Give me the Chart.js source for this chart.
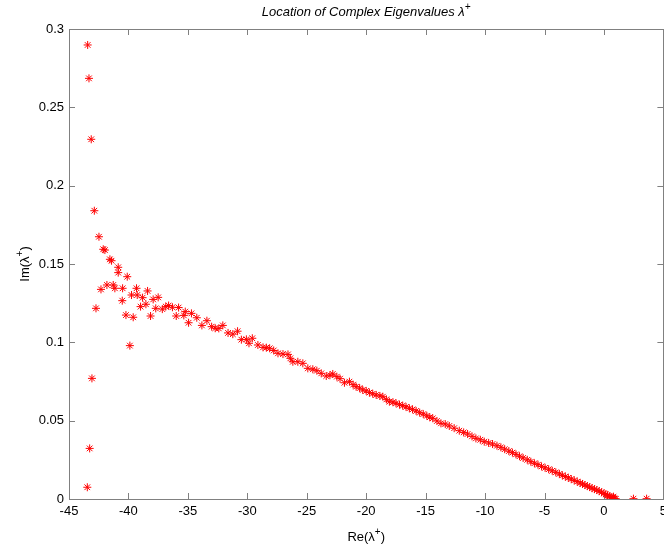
<!DOCTYPE html>
<html>
<head>
<meta charset="utf-8">
<title>Location of Complex Eigenvalues</title>
<script src="https://cdn.jsdelivr.net/npm/chart.js"></script>
<style>
  html, body { margin: 0; padding: 0; background: #fff; overflow: hidden; }
  #wrap { width: 672px; height: 548px; }
</style>
</head>
<body>
<div id="wrap"><canvas id="eigChart"></canvas></div>
<script>
const reVals = [
  -43.46, -43.26, -43.07, -43.13, -43.32, -43.43, -42.87, -42.73, -42.48, -42.31,
  -42.12, -41.98, -41.81, -41.56, -41.42, -41.28, -41.14, -40.86, -40.86, -40.52,
  -40.49, -40.21, -40.10, -39.88, -39.74, -39.60, -39.32, -39.26, -38.98, -38.81,
  -38.53, -38.39, -38.14, -37.92, -37.70, -37.50, -37.15, -36.86, -36.62, -36.30,
  -35.98, -35.78, -35.34, -35.22, -34.94, -34.70, -34.25, -33.82, -33.40, -33.00,
  -32.70, -32.40, -32.06, -31.62, -31.22, -30.82, -30.50, -30.08, -29.86, -29.58,
  -29.11, -28.68, -28.40, -28.12, -27.78, -27.42, -27.00, -26.58, -26.38, -26.17,
  -25.75, -25.33, -24.91, -24.49, -24.15, -23.78, -23.36, -23.05, -22.81, -22.47,
  -22.20, -21.83, -21.41, -21.10, -20.85, -20.55, -20.29, -20.00, -19.73, -19.45,
  -19.16, -18.85, -18.60, -18.30, -18.05, -17.75, -17.49, -17.20, -16.93, -16.65,
  -16.37, -16.10, -15.80, -15.50, -15.20, -14.90, -14.65, -14.40, -14.05, -13.71,
  -13.35, -13.01, -12.60, -12.17, -11.80, -11.47, -11.10, -10.77, -10.40, -10.07,
  -9.70, -9.37, -9.00, -8.67, -8.35, -8.00, -7.70, -7.40, -7.10, -6.80,
  -6.45, -6.15, -5.85, -5.55, -5.25, -4.95, -4.65, -4.35, -4.05, -3.75,
  -3.50, -3.25, -3.00, -2.75, -2.50, -2.25, -2.00, -1.80, -1.60, -1.40,
  -1.20, -1.00, -0.80, -0.60, -0.40, -0.20, 0.00, 0.15, 0.30, 0.45,
  0.50, 0.60, 0.75, 0.80, 0.90, 1.00, 2.48, 3.59
];
const imVals = [
  0.0075, 0.0323, 0.0770, 0.2296, 0.2685, 0.2898, 0.1840, 0.1217, 0.1674, 0.1338,
  0.1594, 0.1589, 0.1366, 0.1530, 0.1521, 0.1366, 0.1345, 0.1479, 0.1445, 0.1266,
  0.1345, 0.1174, 0.1419, 0.0979, 0.1302, 0.1160, 0.1345, 0.1302, 0.1228, 0.1285,
  0.1243, 0.1328, 0.1168, 0.1274, 0.1217, 0.1287, 0.1212, 0.1228, 0.1235, 0.1224,
  0.1168, 0.1222, 0.1172, 0.1196, 0.1125, 0.1185, 0.1157, 0.1108, 0.1138, 0.1100,
  0.1090, 0.1089, 0.1108, 0.1060, 0.1052, 0.1071, 0.1017, 0.1019, 0.0994, 0.1026,
  0.0983, 0.0968, 0.0966, 0.0962, 0.0948, 0.0930, 0.0925, 0.0923, 0.0898, 0.0876,
  0.0876, 0.0866, 0.0834, 0.0828, 0.0819, 0.0802, 0.0785, 0.0790, 0.0798, 0.0781,
  0.0768, 0.0742, 0.0749, 0.0730, 0.0717, 0.0708, 0.0696, 0.0690, 0.0679, 0.0672,
  0.0664, 0.0658, 0.0653, 0.0636, 0.0621, 0.0618, 0.0611, 0.0602, 0.0596, 0.0588,
  0.0579, 0.0572, 0.0562, 0.0551, 0.0542, 0.0531, 0.0522, 0.0515, 0.0498, 0.0483,
  0.0478, 0.0466, 0.0452, 0.0436, 0.0425, 0.0415, 0.0400, 0.0387, 0.0378, 0.0366,
  0.0358, 0.0351, 0.0340, 0.0330, 0.0318, 0.0306, 0.0296, 0.0285, 0.0273, 0.0262,
  0.0250, 0.0238, 0.0228, 0.0219, 0.0208, 0.0199, 0.0190, 0.0180, 0.0170, 0.0160,
  0.0151, 0.0143, 0.0135, 0.0127, 0.0119, 0.0111, 0.0102, 0.0096, 0.0089, 0.0082,
  0.0076, 0.0069, 0.0063, 0.0057, 0.0050, 0.0043, 0.0036, 0.0030, 0.0024, 0.0018,
  0.0008, 0.0012, 0.0007, 0.0015, 0.0003, 0.0001, 0.0002, 0.0002
];

const xTicks = [-45, -40, -35, -30, -25, -20, -15, -10, -5, 0, 5];
const xTickLabels = ['-45', '-40', '-35', '-30', '-25', '-20', '-15', '-10', '-5', '0', '5'];
const yTicks = [0, 0.05, 0.1, 0.15, 0.2, 0.25, 0.3];
const yTickLabels = ['0', '0.05', '0.1', '0.15', '0.2', '0.25', '0.3'];

const FONT_FAMILY = '"Liberation Sans", Arial, Helvetica, sans-serif';
const AXIS_GRAY = '#808080';

// text with a raised "+" like lambda^+
function drawSupText(ctx, base, sup, tail, x, y, italic) {
  const style = italic ? 'italic ' : '';
  const mainFont = style + '13px ' + FONT_FAMILY;
  const supFont = style + '10px ' + FONT_FAMILY;
  ctx.font = mainFont;
  const w1 = ctx.measureText(base).width;
  const w3 = ctx.measureText(tail).width;
  ctx.font = supFont;
  const w2 = ctx.measureText(sup).width;
  let start = x - (w1 + w2 + w3) / 2;
  ctx.textAlign = 'left';
  ctx.textBaseline = 'middle';
  ctx.fillStyle = '#000';
  ctx.font = mainFont;
  ctx.fillText(base, start, y);
  ctx.font = supFont;
  ctx.fillText(sup, start + w1, y - 5);
  ctx.font = mainFont;
  ctx.fillText(tail, start + w1 + w2, y);
}

// matlab style box with inward ticks on all four sides
const boxPlugin = {
  id: 'matlabBox',
  beforeDatasetsDraw(chart) {
    const ctx = chart.ctx;
    const area = chart.chartArea;
    const xs = chart.scales.x;
    const ys = chart.scales.y;
    const len = 6;
    ctx.save();
    ctx.strokeStyle = AXIS_GRAY;
    ctx.lineWidth = 1;
    ctx.strokeRect(Math.round(area.left) + 0.5, Math.round(area.top) + 0.5,
      Math.round(area.right - area.left), Math.round(area.bottom - area.top));
    ctx.beginPath();
    xTicks.forEach(v => {
      const px = Math.round(xs.getPixelForValue(v)) + 0.5;
      ctx.moveTo(px, area.bottom);
      ctx.lineTo(px, area.bottom - len);
      ctx.moveTo(px, area.top);
      ctx.lineTo(px, area.top + len);
    });
    yTicks.forEach(v => {
      const py = Math.round(ys.getPixelForValue(v)) + 0.5;
      ctx.moveTo(area.left, py);
      ctx.lineTo(area.left + len, py);
      ctx.moveTo(area.right, py);
      ctx.lineTo(area.right - len, py);
    });
    ctx.stroke();
    ctx.restore();
  },
  afterDraw(chart) {
    const ctx = chart.ctx;
    const area = chart.chartArea;
    const cx = (area.left + area.right) / 2;
    const cy = (area.top + area.bottom) / 2;
    ctx.save();
    drawSupText(ctx, 'Location of Complex Eigenvalues \u03bb', '+', '', cx, 12, true);
    drawSupText(ctx, 'Re(\u03bb', '+', ')', cx, 537, false);
    ctx.translate(25, cy);
    ctx.rotate(-Math.PI / 2);
    drawSupText(ctx, 'Im(\u03bb', '+', ')', 0, 0, false);
    ctx.restore();
  }
};

const points = reVals.map((re, i) => ({ x: re, y: imVals[i] }));

new Chart(document.getElementById('eigChart'), {
  type: 'scatter',
  data: {
    datasets: [{
      data: points,
      pointStyle: 'star',
      pointRadius: 4,
      pointHoverRadius: 4,
      borderColor: '#ff0000',
      backgroundColor: '#ff0000',
      borderWidth: 1
    }]
  },
  options: {
    responsive: true,
    maintainAspectRatio: false,
    animation: false,
    layout: { padding: { top: 29, right: 7.5, bottom: 0, left: 0 } },
    plugins: {
      legend: { display: false },
      tooltip: { enabled: false },
      title: { display: false }
    },
    scales: {
      x: {
        type: 'linear',
        min: -45,
        max: 5,
        afterBuildTicks: s => { s.ticks = xTicks.map(v => ({ value: v })); },
        afterFit: s => { s.height = 49; },
        grid: { display: false, drawTicks: false },
        border: { display: false },
        ticks: {
          autoSkip: false,
          maxRotation: 0,
          padding: 5,
          color: '#000',
          font: { family: FONT_FAMILY, size: 13 },
          callback: v => xTickLabels[xTicks.indexOf(v)]
        }
      },
      y: {
        type: 'linear',
        min: 0,
        max: 0.3,
        afterBuildTicks: s => { s.ticks = yTicks.map(v => ({ value: v })); },
        afterFit: s => { s.width = 69; },
        grid: { display: false, drawTicks: false },
        border: { display: false },
        ticks: {
          autoSkip: false,
          padding: 5,
          color: '#000',
          font: { family: FONT_FAMILY, size: 13 },
          callback: v => yTickLabels[yTicks.indexOf(v)]
        }
      }
    }
  },
  plugins: [boxPlugin]
});
</script>
</body>
</html>
